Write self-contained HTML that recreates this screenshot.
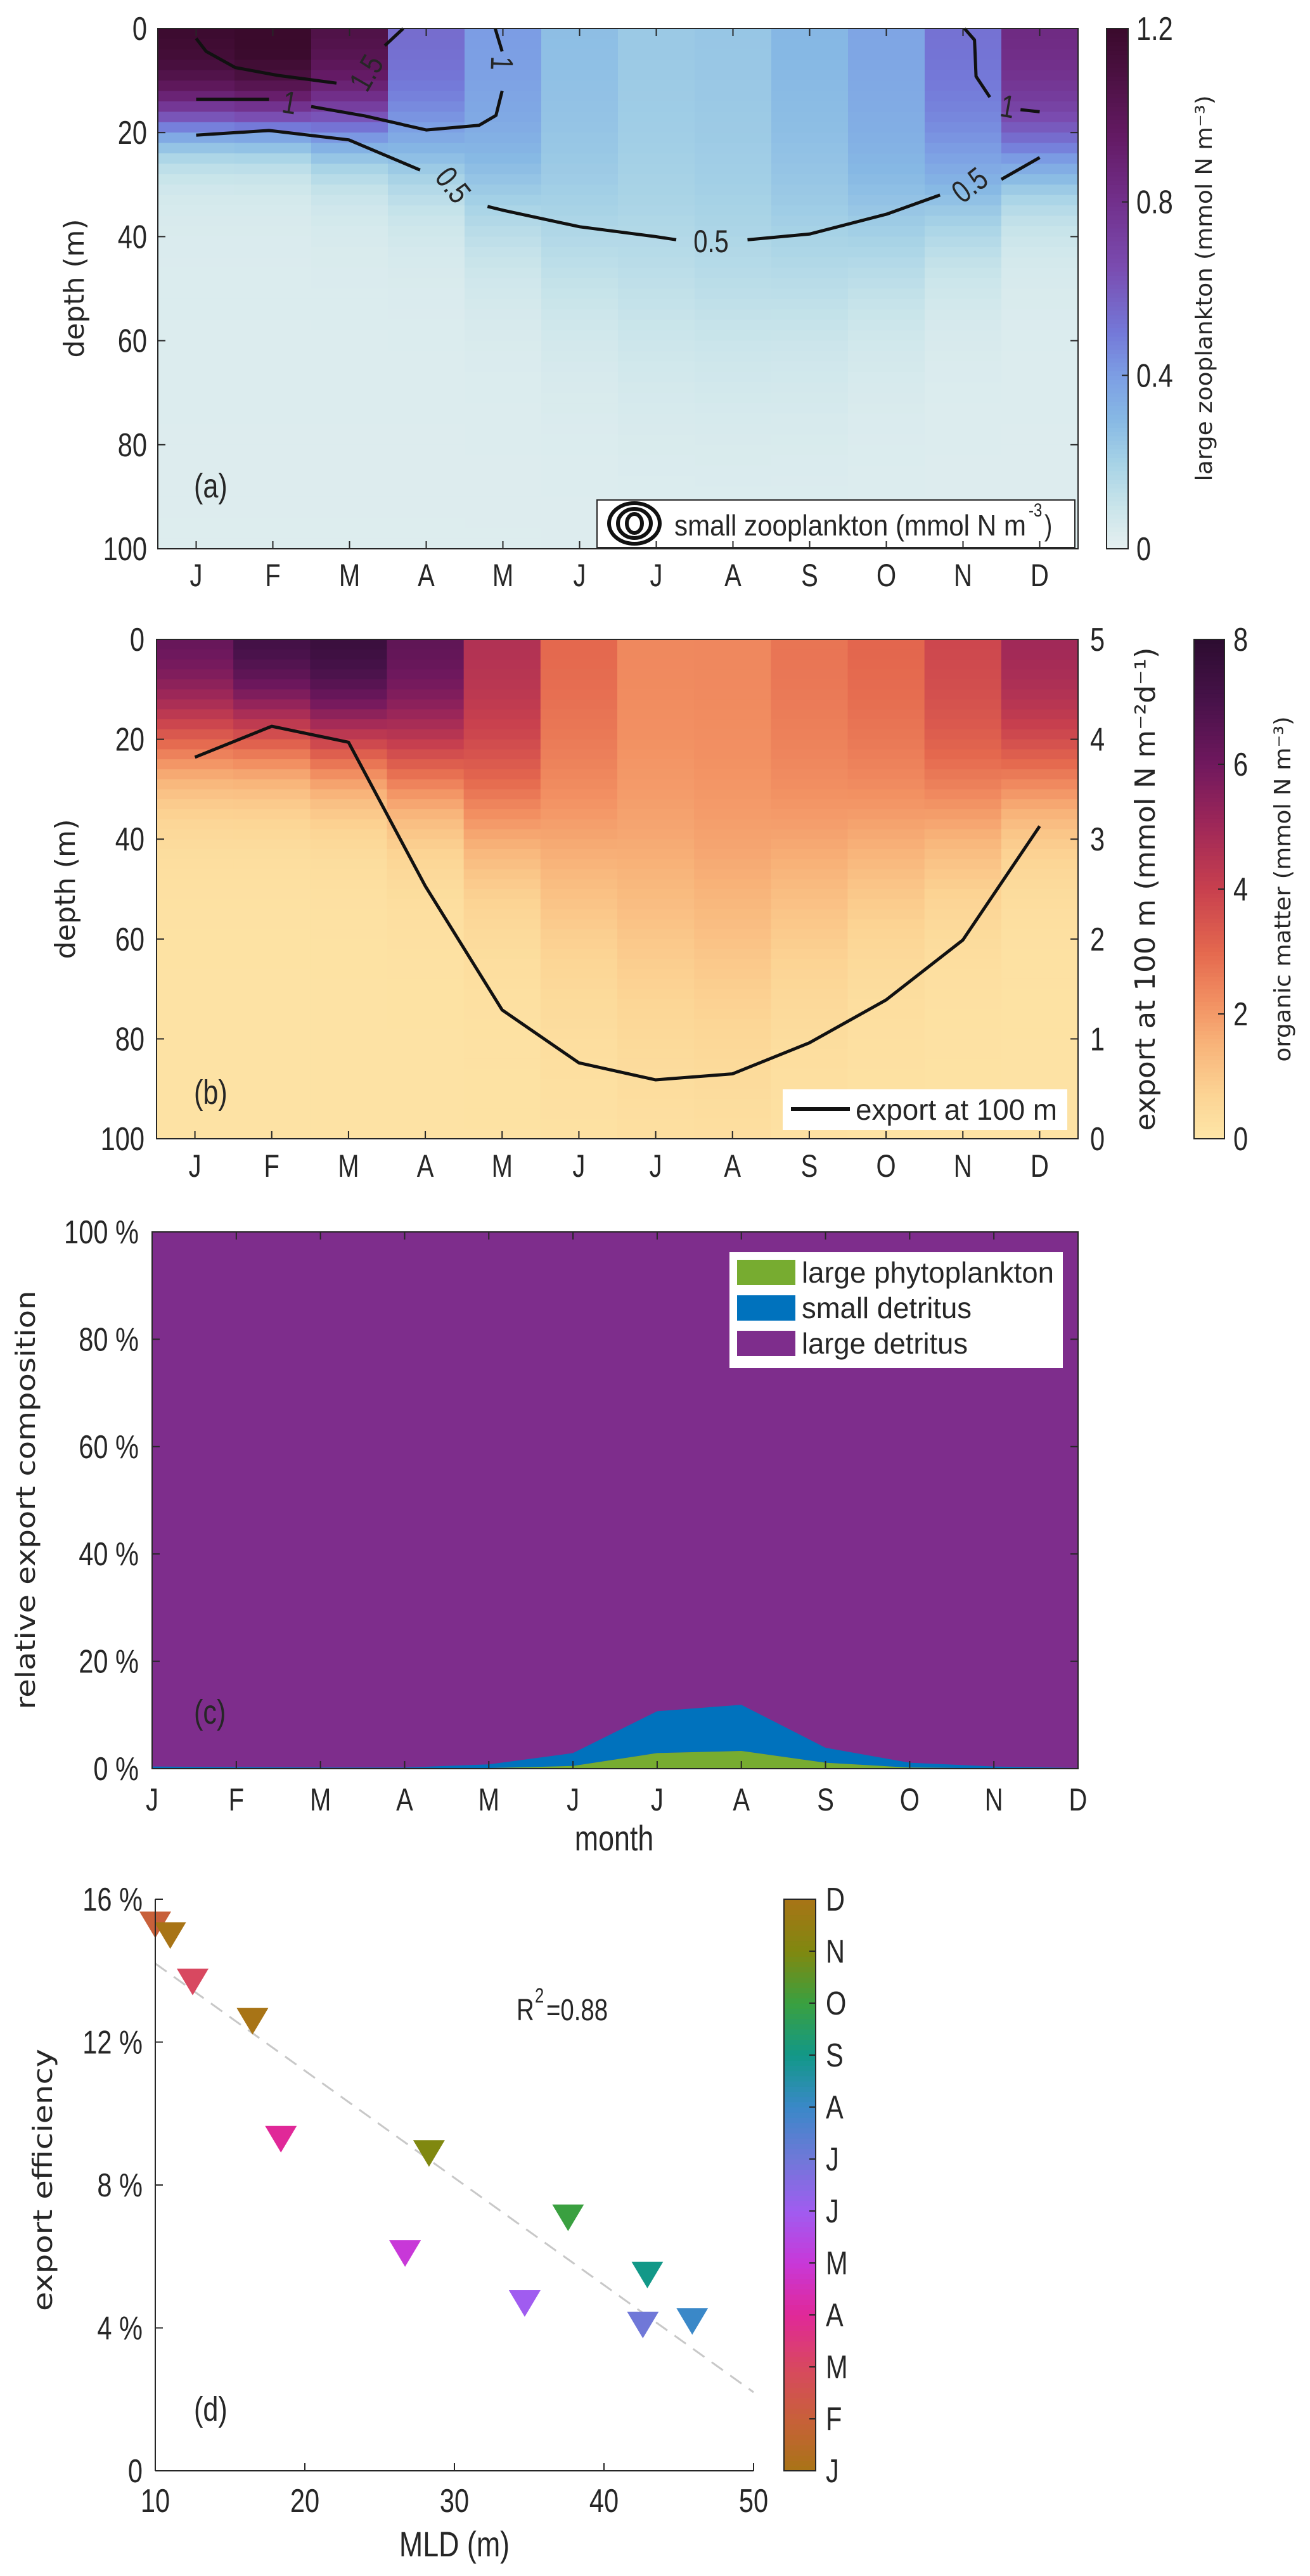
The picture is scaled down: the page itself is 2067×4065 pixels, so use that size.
<!DOCTYPE html>
<html><head><meta charset="utf-8">
<style>
html,body{margin:0;padding:0;background:#fff;}
svg{display:block;}
text{font-family:"Liberation Sans",sans-serif;fill:#262626;}
.tt{font-family:"DejaVu Sans","Liberation Sans",sans-serif;}
</style></head>
<body>
<svg id="fig" width="2067" height="4065" viewBox="0 0 2067 4065" xmlns="http://www.w3.org/2000/svg"></svg>
<script>
// ---------- DATA ----------
const months = ['J','F','M','A','M','J','J','A','S','O','N','D'];
const zooSurface = [1.15,1.2,1.05,0.5,0.36,0.23,0.19,0.2,0.26,0.33,0.48,0.8];
const zooHalfDepth = [17,17,18,24,32,42,48,50,45,40,32,24];
const zooWidth = [4,4,5,6,8,10,12,12,12,10,8,6];
const c05a = [[0,20.5],[0.95,19.6],[1.99,21.4],[2.92,27.2]];
const c05b = [[3.8,34.2],[4.02,35],[5.0,38.1],[5.99,40.0],[6.26,40.6]];
const c05c = [[7.19,40.6],[8.0,39.5],[9.0,35.7],[9.7,32]];
const c05d = [[10.5,29],[11.0,24.8]];
const c1a = [[0,13.6],[0.95,13.6]];
const c1b = [[1.5,15],[2.2,16.8],[3.0,19.5],[3.69,18.6],[3.91,16.7],[3.99,12]];
const c1c = [[3.99,4.4],[3.93,1.5],[3.9,0]];
const c1d = [[10.02,0],[10.15,2.2],[10.17,9.2],[10.35,13.2]];
const c1e = [[10.75,15.6],[11.0,16]];
const c15a = [[0,1.9],[0.13,4.4],[0.51,7.5],[1.06,9],[1.83,10.5]];
const c15b = [[2.46,3.3],[2.7,0]];
const omSurface = [6.5,7.6,7.8,6.6,4.6,3.0,2.3,2.3,2.7,3.0,3.8,5.0];
const omHalfDepth = [19,18,20,24,33,42,52,56,46,40,34,27];
const omWidth = [7,7,7,8,10,14,16,16,14,12,10,8];
const exportFlux = [3.82,4.13,3.97,2.53,1.29,0.76,0.59,0.65,0.96,1.39,1.99,3.13];
const largePhyto = [0.05,0.05,0.05,0.05,0.1,0.5,2.9,3.3,1.1,0.2,0.05,0.02];
const smallDet = [0.35,0.25,0.15,0.15,0.7,2.4,7.8,8.6,2.8,0.9,0.35,0.1];
const mld = [16.5,10,12.5,18.4,26.7,34.7,42.6,45.9,42.9,37.6,28.3,11];
const efficiency = [12.6,15.3,13.7,9.3,6.1,4.7,4.1,4.2,5.5,7.1,8.9,15.0];
const fitLine = [[10,14.2],[50,2.2]];
const monthColors = ['#a87416','#c8603a','#d84860','#e02898','#c838d8','#a05cf0','#7078d8','#3a88c8','#129888','#3aa040','#808810','#a87416'];

// ---------- helpers ----------
const NS='http://www.w3.org/2000/svg';
const svg=document.getElementById('fig');
function el(tag,attrs,parent,txt){const e=document.createElementNS(NS,tag);for(const k in attrs)e.setAttribute(k,attrs[k]);if(txt!==undefined)e.textContent=txt;(parent||svg).appendChild(e);return e;}
// narrow text (condensed)
function nt(x,y,size,anchor,str,parent,rot){const t=el('text',{x:0,y:0,"font-size":size,"text-anchor":anchor||'start',transform:'translate('+x+' '+y+')'+(rot?' rotate('+rot+')':'')+' scale(0.8 1)'},parent,str);return t;}
// title text with fixed length, rotated -90
function vt(cx,cy,size,len,str,parent){const t=el('text',{x:0,y:0,"font-size":size,"text-anchor":'middle',class:'tt',textLength:len,lengthAdjust:'spacingAndGlyphs',transform:'translate('+cx+' '+cy+') rotate(-90)'},parent,str);return t;}
function lerpColor(stops,v){if(v<=stops[0][0])return stops[0][1];for(let i=1;i<stops.length;i++){if(v<=stops[i][0]){const a=stops[i-1],b=stops[i];const t=(v-a[0])/(b[0]-a[0]);const ca=hex(a[1]),cb=hex(b[1]);return 'rgb('+ca.map((c,j)=>Math.round(c+(cb[j]-c)*t)).join(',')+')';}}return stops[stops.length-1][1];}
function hex(h){return [1,3,5].map(i=>parseInt(h.substr(i,2),16));}
const zooMap=[[0,'#e6f0f0'],[0.1,'#c8e4ea'],[0.2,'#a6d2e6'],[0.3,'#86b8e4'],[0.4,'#7c9ee4'],[0.5,'#7478d8'],[0.65,'#7a4cb0'],[0.8,'#72308c'],[0.95,'#641a64'],[1.1,'#4a1040'],[1.2,'#3a0a2c']];
const omMap=[[0,'#fde6a8'],[0.7,'#fcd494'],[1.5,'#f8b47a'],[2.2,'#f29062'],[3,'#e4684e'],[4,'#c8404e'],[5,'#a02858'],[6,'#70185e'],[7,'#48124a'],[8,'#2c0c30']];
const cycMap=[];monthColors.forEach((c,i)=>cycMap.push([i/11,c]));

// ---------- PANEL A ----------
const A={l:249,r:1701,t:45,b:866};
const axA=m=>A.l+(m+0.5)*(A.r-A.l)/12;
const ayA=d=>A.t+d*(A.b-A.t)/100;
const gA=el('g',{});


for(let m=0;m<12;m++){for(let d=0;d<100;d+=2){const dc=d+1;const v=zooSurface[m]/(1+Math.exp((dc-zooHalfDepth[m])/zooWidth[m]))+0.03*Math.exp(-dc/80)+0.02;
const r=el('rect',{x:axA(m-0.5),y:ayA(d),width:(A.r-A.l)/12+0.5,height:ayA(2)-ayA(0)+0.5,fill:lerpColor(zooMap,v)},gA);

}}
function cline(pts,g,ax,ay,w){const p=el('polyline',{points:pts.map(q=>ax(q[0])+','+ay(q[1])).join(' '),fill:'none',stroke:'#111',"stroke-width":w||5,"stroke-linejoin":'round'},g);

return p;}
[c05a,c05b,c05c,c05d,c1a,c1b,c1c,c1d,c1e,c15a,c15b].forEach(c=>cline(c,gA,axA,ayA));
function clabel(txt,x,y,rot,g){const t=el('text',{x:0,y:0,"font-size":50,"text-anchor":'middle',"dominant-baseline":'central',transform:'translate('+x+' '+y+') rotate('+rot+') scale(0.8 1)',fill:'#111'},g,txt);

}
clabel('0.5',715,292,52,gA);clabel('0.5',1122,381,0,gA);clabel('0.5',1530,292,-38,gA);
clabel('1',457,162,10,gA);clabel('1',792,100,92,gA);clabel('1',1590,168,10,gA);
clabel('1.5',578,115,-60,gA);
el('rect',{x:A.l,y:A.t,width:A.r-A.l,height:A.b-A.t,fill:'none',stroke:'#262626',"stroke-width":2},gA);
const lgA=el('g',{},gA);


el('rect',{x:942,y:789,width:754,height:75,fill:'#fff',stroke:'#262626',"stroke-width":2},lgA);
[[40,24],[26,15],[12,7]].forEach(s=>el('ellipse',{cx:1001,cy:826,rx:s[0],ry:s[1]+8,fill:'none',stroke:'#111',"stroke-width":6},lgA));
el('text',{x:1064,y:845,"font-size":46,textLength:555,lengthAdjust:'spacingAndGlyphs'},lgA,'small zooplankton (mmol N m');
nt(1623,815,30,'start','-3',lgA);
nt(1648,845,46,'start',')',lgA);
nt(306,785,54,'start','(a)',gA);
[0,20,40,60,80,100].forEach(d=>{el('line',{x1:A.l,x2:A.l+12,y1:ayA(d),y2:ayA(d),stroke:'#262626',"stroke-width":2},gA);el('line',{x1:A.r,x2:A.r-12,y1:ayA(d),y2:ayA(d),stroke:'#262626',"stroke-width":2},gA);
nt(232,ayA(d)+18,52,'end',String(d),gA);});
months.forEach((mo,i)=>{el('line',{x1:axA(i),x2:axA(i),y1:A.b,y2:A.b-12,stroke:'#262626',"stroke-width":2},gA);el('line',{x1:axA(i),x2:axA(i),y1:A.t,y2:A.t+12,stroke:'#262626',"stroke-width":2},gA);
nt(axA(i),925,50,'middle',mo,gA);});
vt(132,455,44,219,'depth (m)',gA);
const cbA=el('g',{},gA);


for(let i=0;i<120;i++){const v=1.2*(i+0.5)/120;el('rect',{x:1746,y:A.b-(i+1)*(A.b-A.t)/120,width:34,height:(A.b-A.t)/120+0.6,fill:lerpColor(zooMap,v)},cbA);}
el('rect',{x:1746,y:A.t,width:34,height:A.b-A.t,fill:'none',stroke:'#262626',"stroke-width":2},cbA);
[0,0.4,0.8,1.2].forEach(v=>{const y=A.b-v/1.2*(A.b-A.t);el('line',{x1:1770,x2:1780,y1:y,y2:y,stroke:'#262626',"stroke-width":2},cbA);nt(1793,y+18,52,'start',String(v),cbA);});
vt(1912,455,36,609,'large zooplankton (mmol N m\u207B\u00B3)',cbA);

// ---------- PANEL B ----------
const B={l:247,r:1701,t:1009,b:1797};
const axB=m=>B.l+(m+0.5)*(B.r-B.l)/12;
const ayB=d=>B.t+d*(B.b-B.t)/100;
const ayE=v=>B.b-v*(B.b-B.t)/5;
const gB=el('g',{});


for(let m=0;m<12;m++){for(let d=0;d<100;d+=2){const dc=d+1;const v=omSurface[m]/(1+Math.exp((dc-omHalfDepth[m])/omWidth[m]))+0.15;
const r=el('rect',{x:axB(m-0.5),y:ayB(d),width:(B.r-B.l)/12+0.5,height:ayB(2)-ayB(0)+0.5,fill:lerpColor(omMap,v)},gB);

}}
const exL=el('polyline',{points:exportFlux.map((v,i)=>axB(i)+','+ayE(v)).join(' '),fill:'none',stroke:'#111',"stroke-width":5,"stroke-linejoin":'round'},gB);


el('rect',{x:B.l,y:B.t,width:B.r-B.l,height:B.b-B.t,fill:'none',stroke:'#262626',"stroke-width":2},gB);
const lgB=el('g',{},gB);


el('rect',{x:1235,y:1719,width:449,height:64,fill:'#fff'},lgB);
el('line',{x1:1248,x2:1341,y1:1750,y2:1750,stroke:'#111',"stroke-width":6},lgB);
el('text',{x:1350,y:1767,"font-size":46,textLength:318,lengthAdjust:'spacingAndGlyphs'},lgB,'export at 100 m');
nt(306,1742,54,'start','(b)',gB);
[0,20,40,60,80,100].forEach(d=>{el('line',{x1:B.l,x2:B.l+12,y1:ayB(d),y2:ayB(d),stroke:'#262626',"stroke-width":2},gB);
nt(228,ayB(d)+18,52,'end',String(d),gB);});
[0,1,2,3,4,5].forEach(v=>{el('line',{x1:B.r,x2:B.r-12,y1:ayE(v),y2:ayE(v),stroke:'#262626',"stroke-width":2},gB);
nt(1720,ayE(v)+18,52,'start',String(v),gB);});
months.forEach((mo,i)=>{el('line',{x1:axB(i),x2:axB(i),y1:B.b,y2:B.b-12,stroke:'#262626',"stroke-width":2},gB);
nt(axB(i),1857,50,'middle',mo,gB);});
vt(118,1403,44,221,'depth (m)',gB);
vt(1822,1403,44,763,'export at 100 m (mmol N m\u207B\u00B2d\u207B\u00B9)',gB);
const cbB=el('g',{},gB);


for(let i=0;i<120;i++){const v=8*(i+0.5)/120;el('rect',{x:1884,y:B.b-(i+1)*(B.b-B.t)/120,width:48,height:(B.b-B.t)/120+0.6,fill:lerpColor(omMap,v)},cbB);}
el('rect',{x:1884,y:B.t,width:48,height:B.b-B.t,fill:'none',stroke:'#262626',"stroke-width":2},cbB);
[0,2,4,6,8].forEach(v=>{const y=B.b-v/8*(B.b-B.t);el('line',{x1:1922,x2:1932,y1:y,y2:y,stroke:'#262626',"stroke-width":2},cbB);nt(1946,y+18,52,'start',String(v),cbB);});
vt(2036,1403,36,545,'organic matter (mmol N m\u207B\u00B3)',cbB);

// ---------- PANEL C ----------
const C={l:240,r:1701,t:1944,b:2791};
const axC=m=>C.l+m*(C.r-C.l)/11;
const ayC=p=>C.b-p*(C.b-C.t)/100;
const gC=el('g',{});


const bgC=el('rect',{x:C.l,y:C.t,width:C.r-C.l,height:C.b-C.t,fill:'#7e2d8c'},gC);


function area(lo,hi,color,name){const top=hi.map((v,i)=>axC(i)+','+ayC(v));const bot=lo.map((v,i)=>axC(i)+','+ayC(v)).reverse();
const p=el('polygon',{points:top.concat(bot).join(' '),fill:color},gC);

}
const cumSmall=smallDet.map((v,i)=>v+largePhyto[i]);
area(largePhyto,cumSmall,'#0072bd','area-small-detritus');
area(largePhyto.map(()=>0),largePhyto,'#77ac30','area-large-phytoplankton');
el('rect',{x:C.l,y:C.t,width:C.r-C.l,height:C.b-C.t,fill:'none',stroke:'#262626',"stroke-width":2},gC);
[0,20,40,60,80,100].forEach(p=>{el('line',{x1:C.l,x2:C.l+12,y1:ayC(p),y2:ayC(p),stroke:'#262626',"stroke-width":2},gC);el('line',{x1:C.r,x2:C.r-12,y1:ayC(p),y2:ayC(p),stroke:'#262626',"stroke-width":2},gC);
nt(219,ayC(p)+18,52,'end',p+' %',gC);});
months.forEach((mo,i)=>{el('line',{x1:axC(i),x2:axC(i),y1:C.b,y2:C.b-12,stroke:'#262626',"stroke-width":2},gC);el('line',{x1:axC(i),x2:axC(i),y1:C.t,y2:C.t+12,stroke:'#262626',"stroke-width":2},gC);
nt(axC(i),2857,50,'middle',mo,gC);});
nt(969,2920,56,'middle','month',gC);
vt(55,2367,42,661,'relative export composition',gC);
nt(306,2720,54,'start','(c)',gC);
const lgC=el('g',{},gC);


el('rect',{x:1151,y:1976,width:526,height:183,fill:'#fff'},lgC);
[['#77ac30','large phytoplankton',398],['#0072bd','small detritus',268],['#7e2d8c','large detritus',262]].forEach((e,i)=>{
el('rect',{x:1163,y:1988+i*56,width:92,height:40,fill:e[0]},lgC);
el('text',{x:1265,y:2024+i*56,"font-size":46,textLength:e[2],lengthAdjust:'spacingAndGlyphs'},lgC,e[1]);});

// ---------- PANEL D ----------
const D={l:245,r:1189,t:2997,b:3899};
const axD=x=>D.l+(x-10)*(D.r-D.l)/40;
const ayD=y=>D.b-y*(D.b-D.t)/16;
const gD=el('g',{});


const fl=el('line',{x1:axD(fitLine[0][0]),y1:ayD(fitLine[0][1]),x2:axD(fitLine[1][0]),y2:ayD(fitLine[1][1]),stroke:'#c8c8c8',"stroke-width":3,"stroke-dasharray":'22 14'},gD);


mld.forEach((x,i)=>{const cx=axD(x),cy=ayD(efficiency[i]);
const t=el('polygon',{points:(cx-25)+','+(cy-20)+' '+(cx+25)+','+(cy-20)+' '+cx+','+(cy+22),fill:monthColors[i]},gD);

});
el('line',{x1:D.l,x2:D.l,y1:D.t,y2:D.b,stroke:'#262626',"stroke-width":2},gD);
el('line',{x1:D.l,x2:D.r,y1:D.b,y2:D.b,stroke:'#262626',"stroke-width":2},gD);
[0,4,8,12,16].forEach(v=>{el('line',{x1:D.l,x2:D.l+12,y1:ayD(v),y2:ayD(v),stroke:'#262626',"stroke-width":2},gD);
nt(225,ayD(v)+18,52,'end',v===0?'0':v+' %',gD);});
[10,20,30,40,50].forEach(v=>{el('line',{x1:axD(v),x2:axD(v),y1:D.b,y2:D.b-12,stroke:'#262626',"stroke-width":2},gD);
nt(axD(v),3964,52,'middle',String(v),gD);});
nt(717,4034,56,'middle','MLD (m)',gD);
vt(82,3440,42,414,'export efficiency',gD);
nt(306,3820,54,'start','(d)',gD);
nt(815,3188,48,'start','R',gD);
nt(844,3160,32,'start','2',gD);
nt(862,3188,48,'start','=0.88',gD);
const cbD=el('g',{},gD);


for(let i=0;i<110;i++){const v=(i+0.5)/110;el('rect',{x:1237,y:D.b-(i+1)*(D.b-D.t)/110,width:50,height:(D.b-D.t)/110+0.6,fill:lerpColor(cycMap,v)},cbD);}
el('rect',{x:1237,y:D.t,width:50,height:D.b-D.t,fill:'none',stroke:'#262626',"stroke-width":2},cbD);
months.forEach((mo,i)=>{const y=D.b-i*(D.b-D.t)/11;el('line',{x1:1277,x2:1287,y1:y,y2:y,stroke:'#262626',"stroke-width":2},cbD);
nt(1303,y+18,52,'start',mo,cbD);});
</script>
</body></html>
